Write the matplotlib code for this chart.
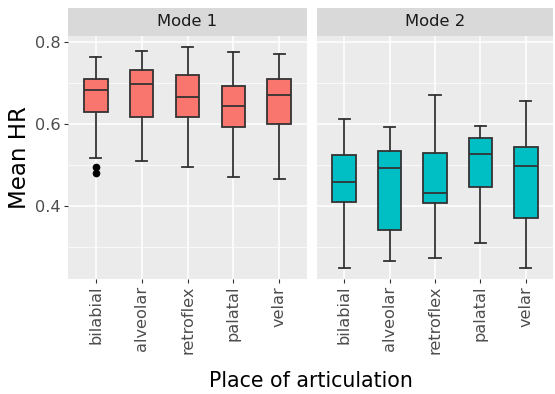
import matplotlib
matplotlib.use("Agg")
import matplotlib.pyplot as plt

# place of articulation categories
places = ["bilabial", "alveolar", "retroflex", "palatal", "velar"]
modes = ["Mode 1", "Mode 2"]

# box stats, per mode: whisker low, Q1, median, Q3, whisker high
mode1_low = [0.519, 0.510, 0.496, 0.471, 0.466]
mode1_q1 = [0.631, 0.618, 0.618, 0.593, 0.601]
mode1_med = [0.684, 0.699, 0.666, 0.645, 0.671]
mode1_q3 = [0.710, 0.732, 0.720, 0.692, 0.710]
mode1_high = [0.763, 0.779, 0.788, 0.775, 0.772]
mode1_outliers = [[0.497, 0.482], [], [], [], []]

mode2_low = [0.250, 0.266, 0.273, 0.310, 0.251]
mode2_q1 = [0.410, 0.343, 0.407, 0.446, 0.371]
mode2_med = [0.459, 0.493, 0.432, 0.527, 0.498]
mode2_q3 = [0.526, 0.534, 0.530, 0.566, 0.545]
mode2_high = [0.613, 0.593, 0.672, 0.596, 0.656]
mode2_outliers = [[], [], [], [], []]

fills = ["#F8766D", "#00BFC4"]


def make_stats(low, q1, med, q3, high, outliers):
    stats = []
    for i in range(len(low)):
        stats.append({"whislo": low[i], "q1": q1[i], "med": med[i],
                      "q3": q3[i], "whishi": high[i], "fliers": outliers[i]})
    return stats


all_stats = [
    make_stats(mode1_low, mode1_q1, mode1_med, mode1_q3, mode1_high, mode1_outliers),
    make_stats(mode2_low, mode2_q1, mode2_med, mode2_q3, mode2_high, mode2_outliers),
]

fig = plt.figure(figsize=(5.55, 3.94), dpi=100)
W, H = 555, 394
panel_x = [(68, 307), (317, 553)]
top, bottom, strip_top = 36, 279, 8

line_col = "#333333"
for k in range(2):
    x0, x1 = panel_x[k]
    ax = fig.add_axes([x0 / W, 1 - bottom / H, (x1 - x0) / W, (bottom - top) / H])
    ax.set_facecolor("#EBEBEB")
    for s in ax.spines.values():
        s.set_visible(False)
    pos = list(range(1, len(places) + 1))
    ax.bxp(all_stats[k], positions=pos, widths=0.52, capwidths=0.25,
           patch_artist=True, manage_ticks=False,
           boxprops=dict(facecolor=fills[k], edgecolor=line_col, linewidth=1.3),
           medianprops=dict(color=line_col, linewidth=1.3),
           whiskerprops=dict(color=line_col, linewidth=1.3),
           capprops=dict(color=line_col, linewidth=1.3),
           flierprops=dict(marker="o", markerfacecolor="black", markeredgecolor="black",
                           markersize=4.5))
    ax.set_xlim(0.4, 5.6)
    ax.set_ylim(0.223, 0.815)
    ax.set_yticks([0.4, 0.6, 0.8])
    ax.set_yticks([0.3, 0.5, 0.7], minor=True)
    ax.set_xticks(pos)
    ax.set_xticklabels(places, rotation=90)
    ax.grid(which="major", color="white", linewidth=1.1)
    ax.grid(which="minor", axis="y", color="white", linewidth=0.5)
    ax.set_axisbelow(True)
    ax.tick_params(which="major", length=3, color=line_col, labelcolor="#4D4D4D",
                   labelsize=11.6, pad=2)
    ax.tick_params(which="minor", length=0)
    if k == 0:
        ax.set_yticklabels(["0.4", "0.6", "0.8"])
        ax.set_ylabel("Mean HR", fontsize=16.5, color="black", labelpad=3)
    else:
        ax.tick_params(axis="y", which="both", left=False, labelleft=False)

    # facet strip
    sax = fig.add_axes([x0 / W, 1 - top / H, (x1 - x0) / W, (top - strip_top) / H])
    sax.set_facecolor("#D9D9D9")
    sax.set_xticks([])
    sax.set_yticks([])
    for s in sax.spines.values():
        s.set_visible(False)
    sax.text(0.5, 0.5, modes[k], ha="center", va="center", fontsize=11.8,
             color="#1A1A1A", transform=sax.transAxes)

fig.text((68 + 553) / 2 / W, 1 - 381 / H, "Place of articulation", ha="center",
         va="center", fontsize=14.8, color="black")

fig.savefig("out.png", dpi=100, facecolor="white")
